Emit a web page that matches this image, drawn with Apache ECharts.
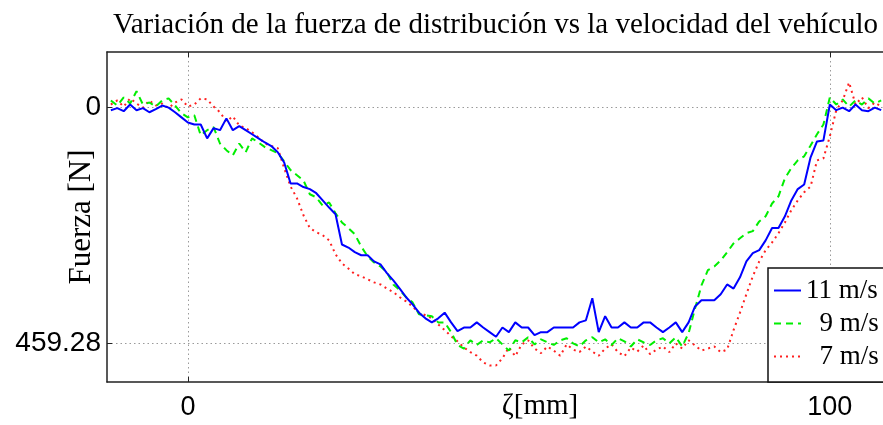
<!DOCTYPE html>
<html>
<head>
<meta charset="utf-8">
<script src="https://cdn.jsdelivr.net/npm/echarts@6/dist/echarts.min.js"></script>
<style>
  html, body { margin: 0; padding: 0; background: #fff; }
  #chart { width: 883px; height: 425px; }
</style>
</head>
<body>
<div id="chart"></div>
<script>
// Position along the profile, ζ [mm]
const zeta = [
  -12, -11, -10, -9, -8, -7, -6, -5, -4, -3, -2, -1,
  0, 1, 2, 3, 4, 5, 6, 7, 8, 9, 10, 11, 12, 13, 14, 15, 16, 17, 18, 19,
  20, 21, 22, 23, 24, 25, 26, 27, 28, 29, 30, 31, 32, 33, 34, 35, 36, 37, 38, 39,
  40, 41, 42, 43, 44, 45, 46, 47, 48, 49, 50, 51, 52, 53, 54, 55, 56, 57, 58, 59,
  60, 61, 62, 63, 64, 65, 66, 67, 68, 69, 70, 71, 72, 73, 74, 75, 76, 77, 78, 79,
  80, 81, 82, 83, 84, 85, 86, 87, 88, 89, 90, 91, 92, 93, 94, 95, 96, 97, 98, 99,
  100, 101, 102, 103, 104, 105, 106, 107, 108
];

// Distribution force [N] at 11 m/s
const force11 = [
  5, 1, 7, -6, 5, 1, 9, 3, -4, 0, 9, 19,
  29, 33, 33, 60, 40, 44, 21, 44, 36, 44, 52, 60, 68, 75, 87, 107, 148, 148, 155, 159,
  167, 181, 195, 208, 267, 273, 282, 288, 288, 300, 306, 323, 337, 353, 370, 384, 400, 411, 419, 411,
  400, 419, 436, 429, 429, 419, 429, 438, 447, 429, 438, 419, 429, 429, 444, 438, 438, 429, 429, 429,
  429, 419, 415, 372, 438, 407, 429, 429, 419, 429, 429, 419, 419, 429, 438, 429, 419, 438, 419, 388,
  376, 376, 376, 364, 345, 353, 331, 300, 284, 278, 259, 235, 235, 212, 181, 159, 150, 97, 66, 64,
  -6, 5, 0, 7, -6, 5, 7, 0, 5
];

// Distribution force [N] at 9 m/s
const force9 = [
  -14, -4, -20, -8, -32, -6, -10, -2, -14, -18, -4, 11,
  19, 15, 54, 44, 38, 70, 83, 93, 70, 87, 60, 68, 77, 83, 89, 105, 122, 132, 142, 169,
  175, 191, 185, 206, 224, 235, 247, 271, 290, 302, 310, 321, 345, 356, 370, 380, 403, 405, 407, 419,
  419, 438, 463, 470, 454, 463, 454, 458, 450, 462, 474, 454, 458, 448, 462, 452, 458, 463, 454, 450,
  460, 466, 454, 448, 458, 452, 463, 450, 456, 466, 452, 458, 463, 454, 450, 460, 448, 466, 440, 392,
  347, 317, 310, 298, 282, 265, 255, 245, 241, 222, 212, 187, 173, 138, 118, 103, 95, 74, 52, 33,
  -20, -6, -16, -2, -14, -6, -18, -8, -14
];

// Distribution force [N] at 7 m/s
const force7 = [
  -6, -14, -2, -18, -8, 0, -14, -4, -8, 1, -10, -16,
  -2, -6, -18, -16, -2, 9, 27, 17, 35, 40, 48, 58, 70, 75, 79, 118, 154, 177, 210, 235,
  243, 249, 259, 286, 304, 314, 325, 329, 335, 341, 345, 353, 360, 370, 378, 388, 400, 405, 411, 423,
  434, 446, 456, 468, 477, 484, 497, 503, 503, 489, 468, 485, 462, 454, 470, 479, 466, 474, 484, 462,
  472, 477, 466, 476, 484, 470, 462, 477, 485, 468, 476, 464, 481, 472, 466, 477, 460, 470, 454, 464,
  474, 470, 466, 477, 472, 434, 400, 364, 329, 300, 278, 263, 245, 224, 200, 181, 165, 154, 103, 99,
  56, 5, -14, -49, -6, -20, 1, -10, -2
];

// Axis marks
const yTicks = [0, 459.28];
const xTicks = [0, 100];

const seriesNames = ['11 m/s', '9 m/s', '7 m/s'];

const toPairs = (vals) => zeta.map((z, i) => [z, vals[i]]);

const serif = '"Liberation Serif", "Times New Roman", serif';
const sans = '"Liberation Sans", Arial, sans-serif';
const frame = '#222';
const gridLine = { show: true, lineStyle: { color: '#9a9a9a', type: [1.5, 3], width: 1 } };

const chart = echarts.init(document.getElementById('chart'), null, { renderer: 'canvas' });

chart.setOption({
  animation: false,
  backgroundColor: '#fff',
  title: {
    text: 'Variación de la fuerza de distribución vs la velocidad del vehículo',
    left: 108,
    top: 6,
    textStyle: { fontFamily: serif, fontWeight: 'normal', fontSize: 29, color: '#000' }
  },
  grid: {
    left: 107, top: 52, right: -90, bottom: 43,
    outerBoundsMode: 'none',
    show: false
  },
  legend: {
    data: seriesNames,
    orient: 'vertical',
    left: 768,
    top: 268,
    align: 'left',
    itemWidth: 27,
    itemHeight: 14,
    itemGap: 6,
    itemStyle: { opacity: 0 },
    padding: [9, 80, 12, 5],
    backgroundColor: '#fff',
    borderColor: '#111',
    borderWidth: 1.5,
    borderRadius: 0,
    formatter: (name) => (name.length < 6 ? '  ' + name : name),
    textStyle: { fontFamily: serif, fontSize: 27, color: '#000', lineHeight: 27 }
  },
  xAxis: [
    {
      type: 'value',
      min: -12.6,
      max: 122.3,
      position: 'bottom',
      name: 'ζ[mm]',
      nameLocation: 'middle',
      nameGap: 10,
      nameMoveOverlap: false,
      nameTextStyle: { fontFamily: serif, fontSize: 29, color: '#000', verticalAlign: 'top' },
      axisLine: { show: true, onZero: false, lineStyle: { color: frame, width: 1.5 } },
      axisTick: { show: true, inside: true, length: 5, customValues: xTicks, lineStyle: { color: frame } },
      axisLabel: {
        customValues: xTicks,
        margin: 12,
        fontFamily: sans, fontSize: 27, color: '#000'
      },
      splitLine: gridLine
    },
    {
      type: 'value',
      min: -12.6,
      max: 122.3,
      position: 'top',
      axisLine: { show: true, onZero: false, lineStyle: { color: frame, width: 1.5 } },
      axisTick: { show: true, inside: true, length: 5, customValues: xTicks, lineStyle: { color: frame } },
      axisLabel: { show: false },
      splitLine: { show: false }
    }
  ],
  yAxis: {
    type: 'value',
    inverse: true,
    min: -108.5,
    max: 535.3,
    name: 'Fuerza [N]',
    nameLocation: 'middle',
    nameRotate: 90,
    nameGap: 10,
    nameMoveOverlap: false,
    nameTextStyle: { fontFamily: serif, fontSize: 31, color: '#000' },
    axisLine: { show: true, onZero: false, lineStyle: { color: frame, width: 1.5 } },
    axisTick: { show: true, inside: true, length: 5, customValues: yTicks, lineStyle: { color: frame } },
    axisLabel: {
      customValues: yTicks,
      margin: 6,
      fontFamily: sans, fontSize: 28, color: '#000',
      formatter: (v) => String(v)
    },
    splitLine: gridLine
  },
  series: [
    {
      name: seriesNames[0],
      type: 'line',
      data: toPairs(force11),
      showSymbol: false,
      symbol: 'none',
      lineStyle: { color: '#0000ff', width: 2 },
      itemStyle: { color: '#0000ff' },
      z: 4
    },
    {
      name: seriesNames[1],
      type: 'line',
      data: toPairs(force9),
      showSymbol: false,
      symbol: 'none',
      lineStyle: { color: '#00ee00', width: 2, type: [7, 5] },
      itemStyle: { color: '#00ee00' },
      z: 3
    },
    {
      name: seriesNames[2],
      type: 'line',
      data: toPairs(force7),
      showSymbol: false,
      symbol: 'none',
      lineStyle: { color: '#ff2020', width: 2, type: [2, 4] },
      itemStyle: { color: '#ff2020' },
      z: 2
    }
  ]
});
</script>
</body>
</html>
